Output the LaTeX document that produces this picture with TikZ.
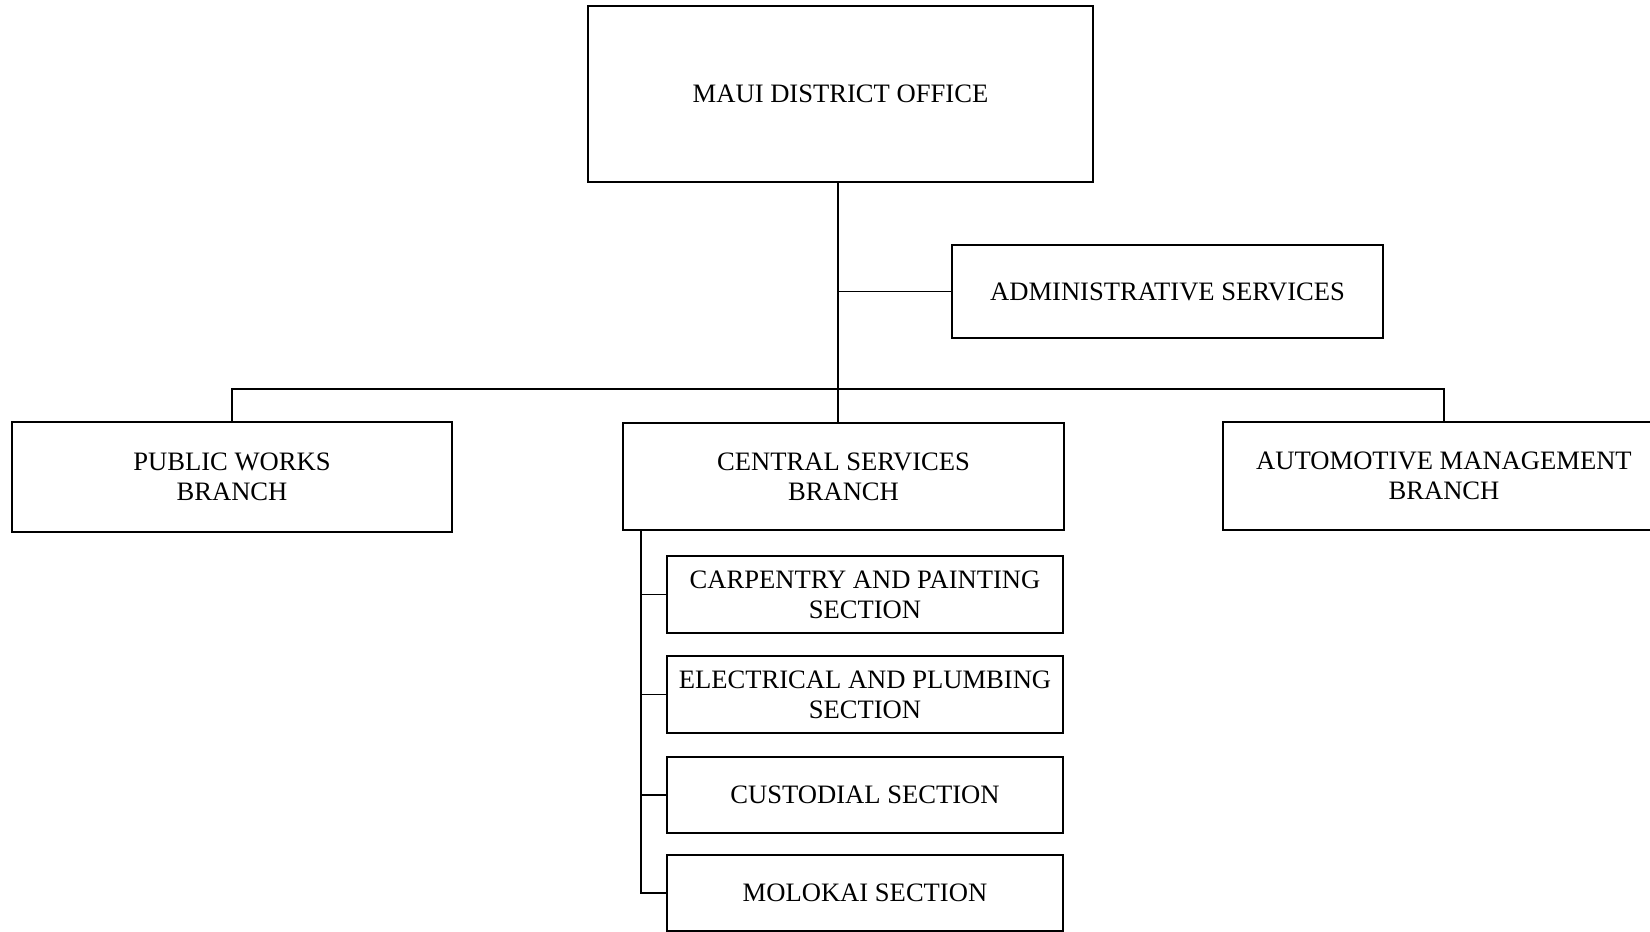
\documentclass[tikz,border=0pt]{standalone}
\usepackage{fontspec}
\setmainfont{Liberation Serif}
\begin{document}
\begin{tikzpicture}[x=1pt,y=-1pt,
  box/.style={draw,line width=1.4pt,inner sep=0pt,align=center,
    font=\fontsize{26.6}{30}\selectfont},
  conn/.style={line width=1.4pt}]
\useasboundingbox (0,0) rectangle (1650,932);
\node[box,minimum width=505pt,minimum height=176pt] (maui) at (840.5,94) {MAUI DISTRICT OFFICE};
\node[box,minimum width=431pt,minimum height=93pt] (admin) at (1167.5,291.5) {ADMINISTRATIVE SERVICES};
\node[box,minimum width=440pt,minimum height=110pt] (pw) at (232,477) {PUBLIC WORKS\\BRANCH};
\node[box,minimum width=441pt,minimum height=107pt] (cs) at (843.5,476.5) {CENTRAL SERVICES\\BRANCH};
\node[box,minimum width=442pt,minimum height=108pt] (am) at (1444,476) {AUTOMOTIVE MANAGEMENT\\BRANCH};
\node[box,minimum width=396pt,minimum height=77pt] (carp) at (865,594.5) {CARPENTRY AND PAINTING\\SECTION};
\node[box,minimum width=396pt,minimum height=77pt] (elec) at (865,694.5) {ELECTRICAL AND PLUMBING\\SECTION};
\node[box,minimum width=396pt,minimum height=76pt] (cust) at (865,795) {CUSTODIAL SECTION};
\node[box,minimum width=396pt,minimum height=76pt] (molo) at (865,893) {MOLOKAI SECTION};
\coordinate (bus) at (838,389);
\coordinate (spine) at (641,530);
\draw[conn] (maui.south -| bus) -- (cs.north -| bus);
\draw[conn] (admin.west) -- (admin.west -| bus);
\draw[conn] (pw.north) -- (pw.north |- bus) -- (am.north |- bus) -- (am.north);
\draw[conn] (cs.south -| spine) -- (molo.west -| spine) -- (molo.west);
\draw[conn] (carp.west -| spine) -- (carp.west);
\draw[conn] (elec.west -| spine) -- (elec.west);
\draw[conn] (cust.west -| spine) -- (cust.west);
\end{tikzpicture}
\end{document}
